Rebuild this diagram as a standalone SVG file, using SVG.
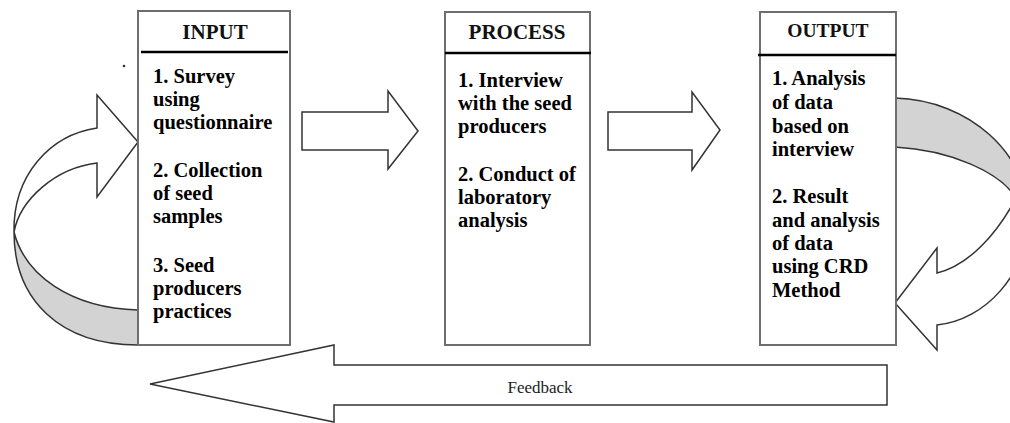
<svg xmlns="http://www.w3.org/2000/svg" width="1010" height="423" viewBox="0 0 1010 423">
<style>
.box{fill:#fff;stroke:#6e6e6e;stroke-width:2}
.div{stroke:#000;stroke-width:2.5}
.hdr{font-family:"Liberation Serif","Times New Roman",serif;font-weight:bold;font-size:21px;text-anchor:middle;fill:#111}
.body{font-family:"Liberation Serif","Times New Roman",serif;font-weight:bold;font-size:20.5px;fill:#000}
.arrow{fill:#fff;stroke:#333;stroke-width:1.5;stroke-linejoin:miter}
.band{fill:#d3d3d3;stroke:#333;stroke-width:1.5}
.lbl{font-family:"Liberation Serif","Times New Roman",serif;font-size:17px;text-anchor:middle;fill:#222}
</style>
<rect width="1010" height="423" fill="#fff"/>
<g id="connectors">
  <g id="arrow-input-process">
    <polygon class="arrow" points="302,112 388,112 388,91 418,131 388,169 388,150 302,150"/>
  </g>
  <g id="arrow-process-output">
    <polygon class="arrow" points="608,112 692,112 692,92 720,130 692,170 692,150 608,150"/>
  </g>
  <g id="loop-input">
    <path class="band" d="M14,232 C25,275 70,308 138,310 L138,345 C60,345 14,300 14,232 Z"/>
    <path class="arrow" d="M138,142 L97,95 L97,128 C50,135 13,175 14,232 C20,200 55,168 97,163 L97,197 Z"/>
  </g>
  <g id="loop-output">
    <path class="band" d="M895,98 C970,100 1028,155 1028,215 L1016,198 C1000,172 950,150 895,147 Z"/>
    <path class="arrow" d="M1028,215 C1028,275 985,320 937,325 L937,350 L895,303 L937,248 L937,273 C970,265 998,232 1016,198 Z"/>
  </g>
  <g id="feedback">
    <polygon class="arrow" points="150,384 334,345 334,365 887,365 887,405 334,405 334,422"/>
    <text class="lbl" x="540" y="393">Feedback</text>
  </g>
</g>
<circle cx="124" cy="66" r="1.3" fill="#333"/>
<g id="node-input">
  <rect class="box" x="138" y="11" width="152" height="334"/>
  <line class="div" x1="141" y1="52" x2="288" y2="52"/>
  <text class="hdr" x="215" y="39">INPUT</text>
  <text class="body" x="153" y="83">1. Survey</text>
  <text class="body" x="153" y="106">using</text>
  <text class="body" x="153" y="129">questionnaire</text>
  <text class="body" x="153" y="177">2. Collection</text>
  <text class="body" x="153" y="200">of seed</text>
  <text class="body" x="153" y="223">samples</text>
  <text class="body" x="153" y="272">3. Seed</text>
  <text class="body" x="153" y="295">producers</text>
  <text class="body" x="153" y="318">practices</text>
</g>
<g id="node-process">
  <rect class="box" x="445" y="12" width="145" height="333"/>
  <line class="div" x1="445" y1="53" x2="591" y2="53"/>
  <text class="hdr" x="517" y="39">PROCESS</text>
  <text class="body" x="458" y="87">1. Interview</text>
  <text class="body" x="458" y="110">with the seed</text>
  <text class="body" x="458" y="133">producers</text>
  <text class="body" x="458" y="181">2. Conduct of</text>
  <text class="body" x="458" y="204">laboratory</text>
  <text class="body" x="458" y="227">analysis</text>
</g>
<g id="node-output">
  <rect class="box" x="760" y="12" width="136" height="333"/>
  <line class="div" x1="758" y1="55" x2="896" y2="55"/>
  <text class="hdr" x="828" y="37" style="font-size:19.5px">OUTPUT</text>
  <text class="body" x="772" y="85">1. Analysis</text>
  <text class="body" x="772" y="109">of data</text>
  <text class="body" x="772" y="133">based on</text>
  <text class="body" x="772" y="156">interview</text>
  <text class="body" x="772" y="203">2. Result</text>
  <text class="body" x="772" y="227">and analysis</text>
  <text class="body" x="772" y="250">of data</text>
  <text class="body" x="772" y="273">using CRD</text>
  <text class="body" x="772" y="297">Method</text>
</g>
</svg>
